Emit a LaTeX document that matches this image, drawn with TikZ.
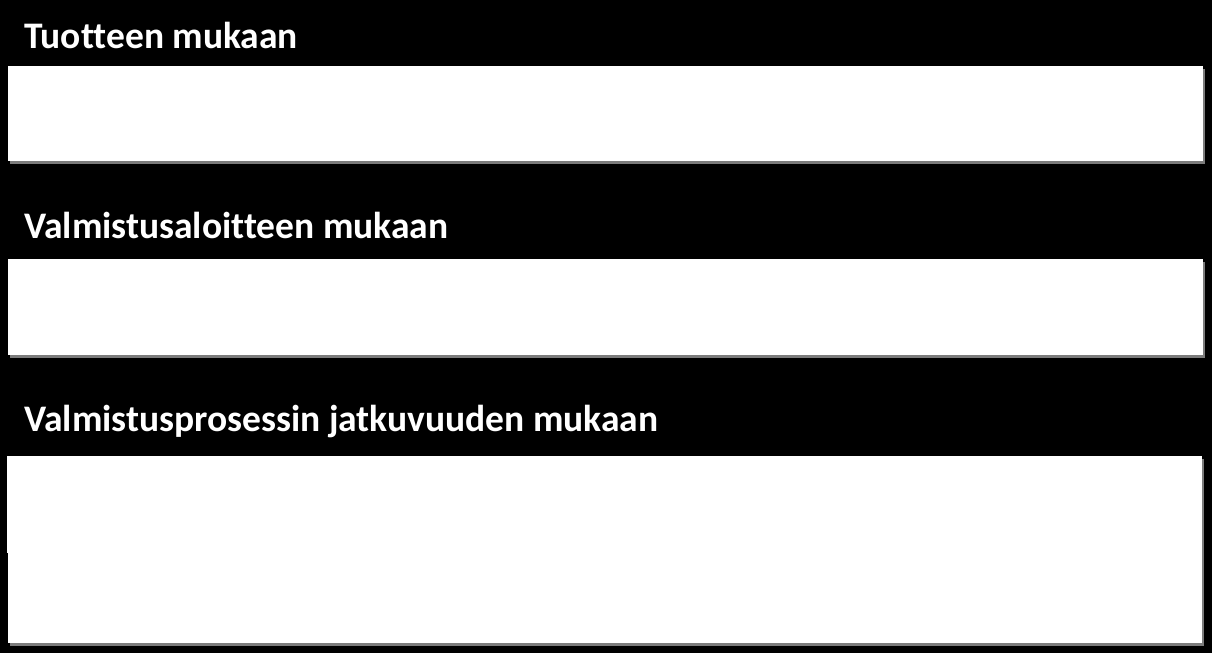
\documentclass[tikz,border=0pt]{standalone}
\usepackage{fontspec}
\setmainfont[Ligatures=NoCommon]{Carlito}
\usetikzlibrary{positioning,shadows}

\tikzset{
    heading/.style={anchor=base west, text=white, inner sep=0pt,
        font=\fontsize{37.5}{44}\selectfont\bfseries},
    whitebox/.style={fill=white, draw=none, inner sep=0pt, anchor=north west,
        drop shadow={shadow xshift=1.5pt, shadow yshift=-3pt, fill=gray!60, opacity=0.7}}
}

\begin{document}
\begin{tikzpicture}[x=1pt,y=-1pt]
    \fill[black] (0,0) rectangle (1212,653);
    \useasboundingbox (0,0) rectangle (1212,653);

    % Tuotteen mukaan
    \node[heading] (head1) at (24,48) {Tuotteen mukaan};
    \node[whitebox, minimum width=1195pt, minimum height=95pt] (box1) at (8,66) {};

    % Valmistusaloitteen mukaan
    \node[heading] (head2) at (24,238) {Valmistusaloitteen mukaan};
    \node[whitebox, minimum width=1195pt, minimum height=96pt] (box2) at (8,259) {};

    % Valmistusprosessin jatkuvuuden mukaan
    \node[heading] (head3) at (24,431) {Valmistusprosessin jatkuvuuden mukaan};
    \node[whitebox, minimum width=1195pt, minimum height=97pt] (box3a) at (7,456) {};
    \node[whitebox, minimum width=1194pt, minimum height=90pt] (box3b) at (8,553) {};

\end{tikzpicture}
\end{document}
